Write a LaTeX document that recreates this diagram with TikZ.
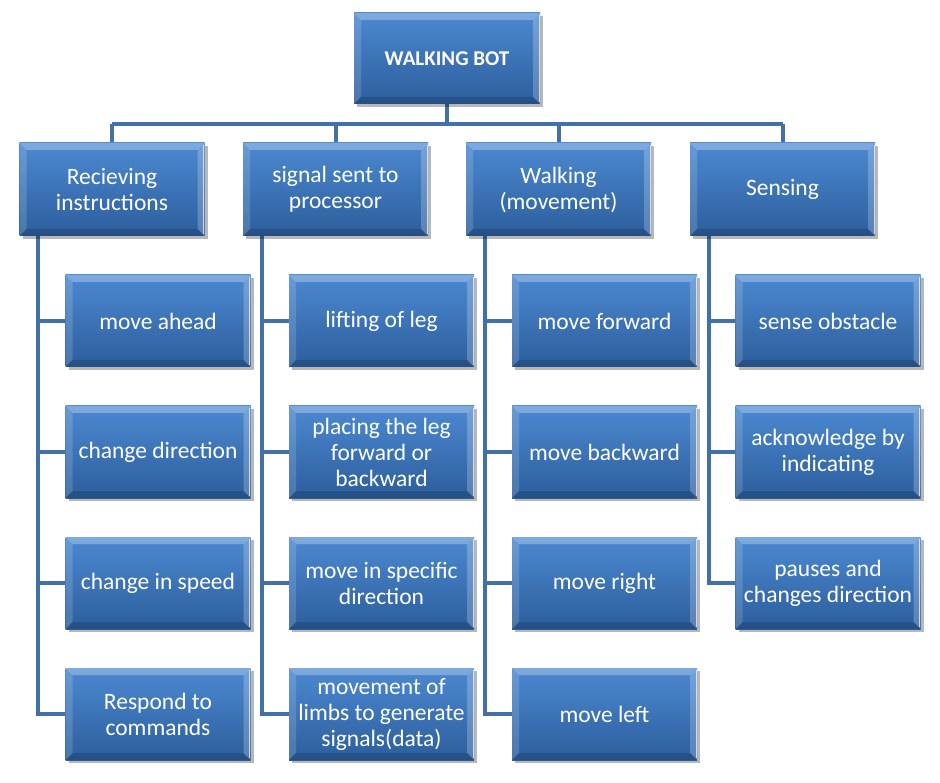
\documentclass[tikz,border=0pt]{standalone}
\usepackage{fontspec}
\setmainfont{Carlito}
\usetikzlibrary{shadows,backgrounds,calc}
\definecolor{boxtop}{RGB}{76,137,209}
\definecolor{boxbot}{RGB}{44,94,156}
\definecolor{linkc}{RGB}{66,112,168}
\tikzset{
  bevelbox/.style={rectangle, inner sep=0pt, minimum width=185pt, minimum height=92pt,
    top color=boxtop, bottom color=boxbot, draw=none, text=white,
    align=center, font=\fontsize{23.5}{26}\selectfont,
    drop shadow={shadow xshift=3pt, shadow yshift=-3pt, fill=black, opacity=0.28},
    path picture={
      \fill[white,opacity=0.28] (path picture bounding box.north west) -- (path picture bounding box.north east)
        -- ([shift={(-7pt,-7pt)}]path picture bounding box.north east) -- ([shift={(7pt,-7pt)}]path picture bounding box.north west) -- cycle;
      \fill[white,opacity=0.15] (path picture bounding box.north west) -- (path picture bounding box.south west)
        -- ([shift={(7pt,7pt)}]path picture bounding box.south west) -- ([shift={(7pt,-7pt)}]path picture bounding box.north west) -- cycle;
      \fill[white,opacity=0.22] (path picture bounding box.north east) -- (path picture bounding box.south east)
        -- ([shift={(-7pt,7pt)}]path picture bounding box.south east) -- ([shift={(-7pt,-7pt)}]path picture bounding box.north east) -- cycle;
      \fill[black,opacity=0.15] (path picture bounding box.south west) -- (path picture bounding box.south east)
        -- ([shift={(-7pt,7pt)}]path picture bounding box.south east) -- ([shift={(7pt,7pt)}]path picture bounding box.south west) -- cycle;
      \draw[white,opacity=0.7,line width=1.2pt] ([shift={(-0.8pt,-2pt)}]path picture bounding box.north east) -- ([shift={(-0.8pt,2pt)}]path picture bounding box.south east);
    }},
  rootbox/.style={bevelbox, minimum width=186pt, minimum height=91pt, font=\fontsize{21}{24}\selectfont\bfseries},
  headbox/.style={bevelbox, minimum height=93pt},
  link/.style={draw=linkc, line width=4pt}
}
\begin{document}
\begin{tikzpicture}[x=1pt,y=-1pt]
\useasboundingbox (0,0) rectangle (940,783);
\node[rootbox] (root) at (447,58.5) {WALKING BOT};
\node[headbox] (h1) at (112,189.5) {Recieving\\instructions};
\node[headbox] (h2) at (335.5,189.5) {signal sent to\\processor};
\node[headbox] (h3) at (558.5,189.5) {Walking\\(movement)};
\node[headbox] (h4) at (782.5,189.5) {Sensing};
% column 1
\node[bevelbox] (a1) at (158,321) {move ahead};
\node[bevelbox] (a2) at (158,452) {change direction};
\node[bevelbox] (a3) at (158,583) {change in speed};
\node[bevelbox] (a4) at (158,714) {Respond to\\commands};
% column 2
\node[bevelbox] (b1) at (381.5,321) {lifting of leg};
\node[bevelbox] (b2) at (381.5,452) {placing the leg\\forward or\\backward};
\node[bevelbox] (b3) at (381.5,583) {move in specific\\direction};
\node[bevelbox] (b4) at (381.5,714) {movement of\\limbs to generate\\signals(data)};
% column 3
\node[bevelbox] (c1) at (604.5,321) {move forward};
\node[bevelbox] (c2) at (604.5,452) {move backward};
\node[bevelbox] (c3) at (604.5,583) {move right};
\node[bevelbox] (c4) at (604.5,714) {move left};
% column 4
\node[bevelbox] (d1) at (828,321) {sense obstacle};
\node[bevelbox] (d2) at (828,452) {acknowledge by\\indicating};
\node[bevelbox] (d3) at (828,583) {pauses and\\changes direction};
\coordinate (busL) at (112,124);
\coordinate (busR) at (782.5,124);
\coordinate (s1) at (38,230);
\coordinate (s2) at (261.5,230);
\coordinate (s3) at (484.5,230);
\coordinate (s4) at (708.5,230);
\begin{scope}[on background layer]
\draw[link] (busL) -- (busR);
\draw[link] (root.south) -- (root.south |- busL);
\foreach \h in {h1,h2,h3,h4} {\draw[link] (\h.north |- busL) -- (\h.north);}
\draw[link] (s1) |- (a4.west);
\foreach \n in {a1,a2,a3} {\draw[link] (s1 |- \n.west) -- (\n.west);}
\draw[link] (s2) |- (b4.west);
\foreach \n in {b1,b2,b3} {\draw[link] (s2 |- \n.west) -- (\n.west);}
\draw[link] (s3) |- (c4.west);
\foreach \n in {c1,c2,c3} {\draw[link] (s3 |- \n.west) -- (\n.west);}
\draw[link] (s4) |- (d3.west);
\foreach \n in {d1,d2} {\draw[link] (s4 |- \n.west) -- (\n.west);}
\end{scope}
\end{tikzpicture}
\end{document}
